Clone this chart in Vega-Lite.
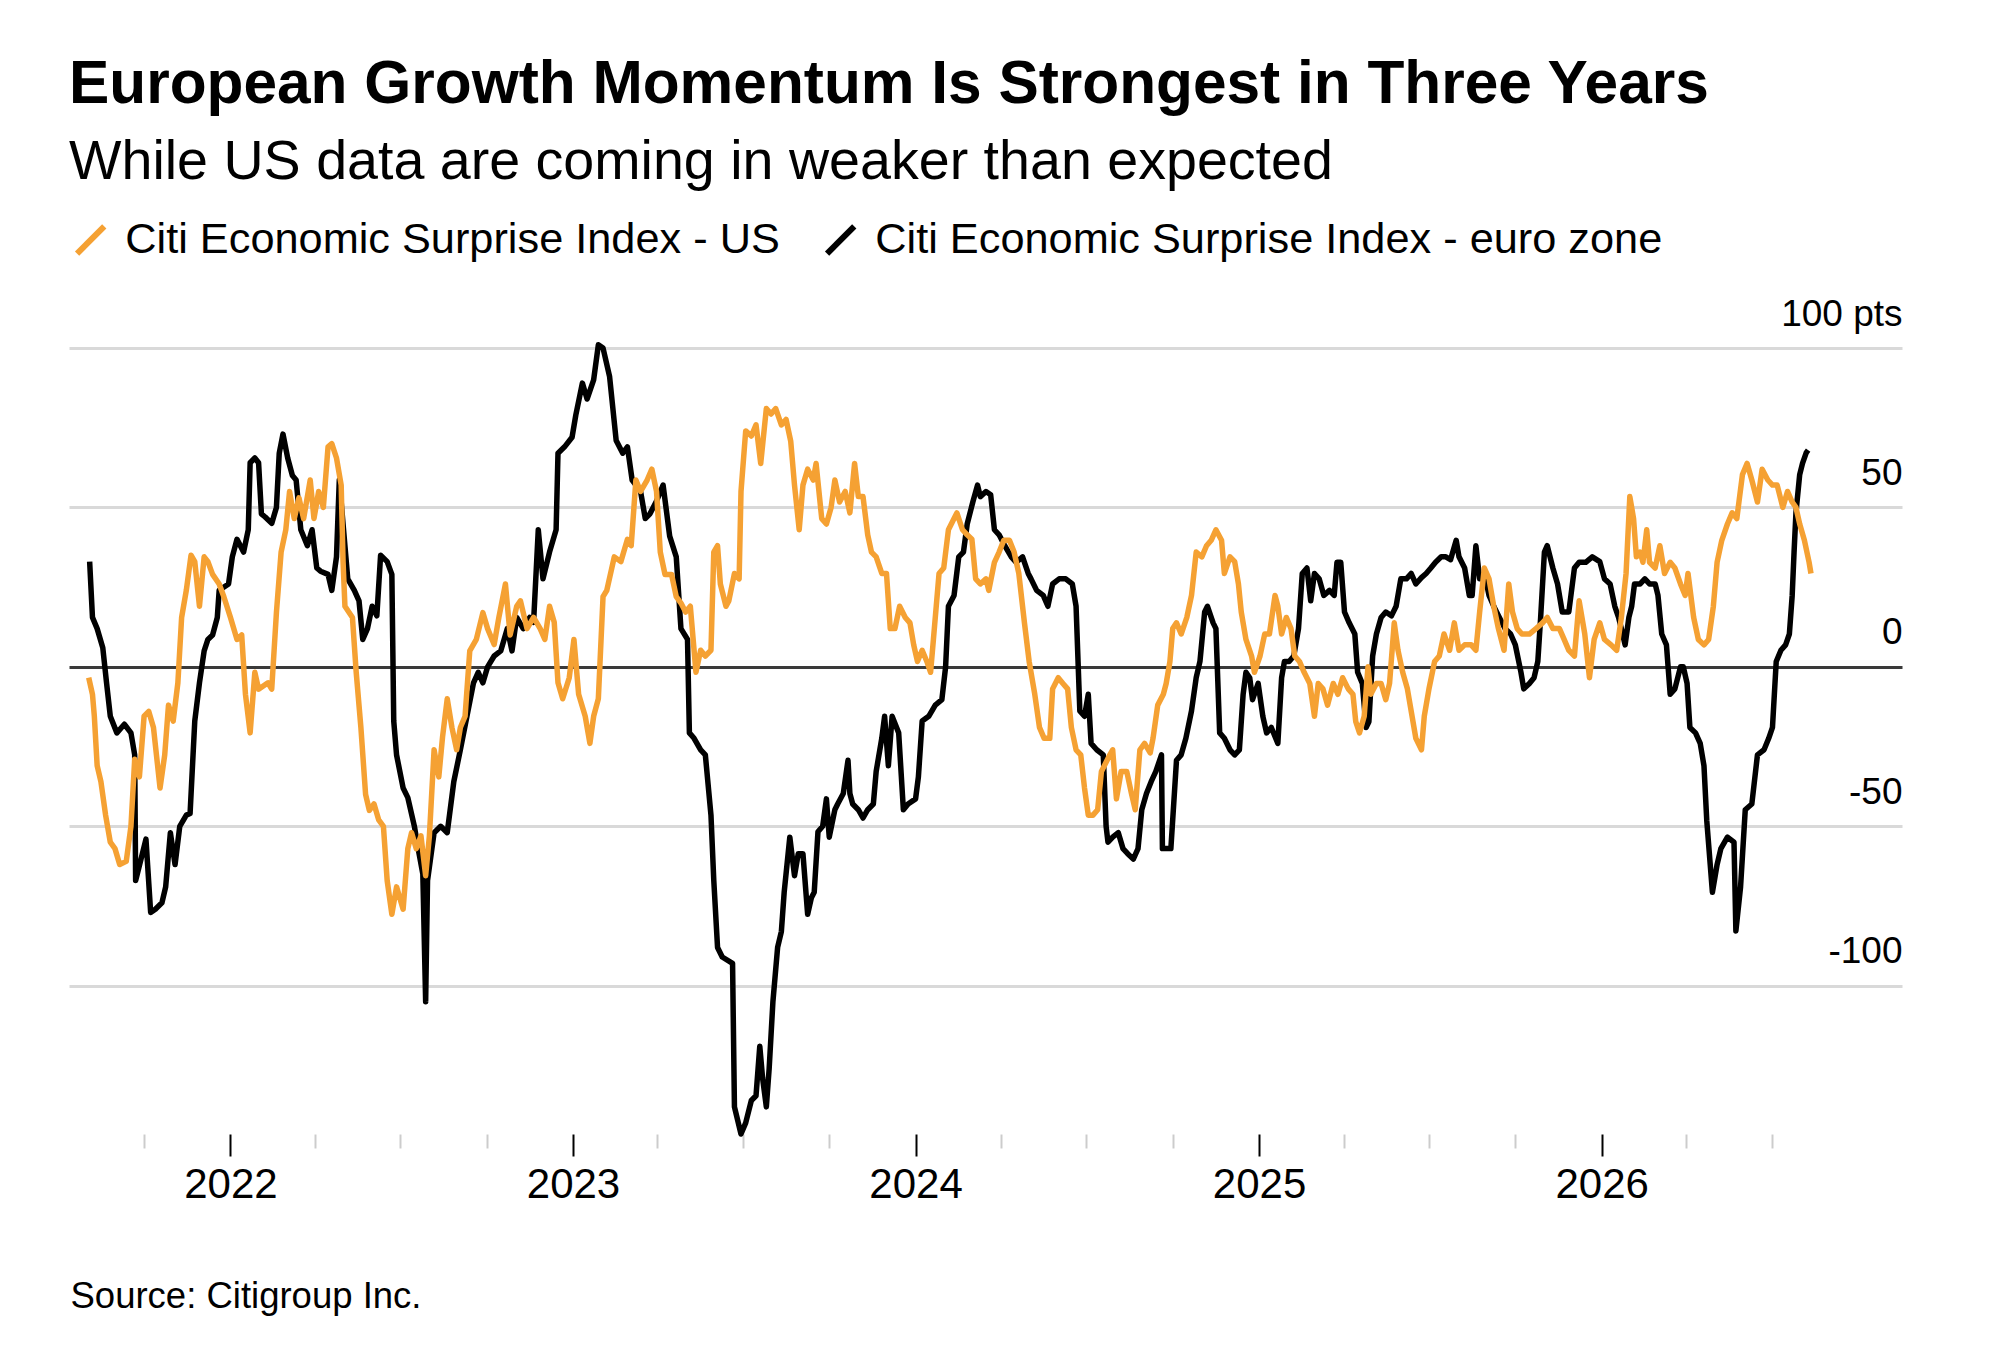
{
  "$schema": "https://vega.github.io/schema/vega-lite/v6.json",
  "width": 1833,
  "height": 786,
  "autosize": {"type": "none"},
  "padding": {"left": 69, "top": 348, "right": 98, "bottom": 226},
  "background": "#ffffff",
  "title": {
    "text": "European Growth Momentum Is Strongest in Three Years",
    "subtitle": "While US data are coming in weaker than expected",
    "anchor": "start",
    "frame": "group",
    "offset": 27,
    "font": "Liberation Sans",
    "fontSize": 60.4,
    "fontWeight": "bold",
    "color": "#000000",
    "subtitleFont": "Liberation Sans",
    "subtitleFontSize": 55.6,
    "subtitleColor": "#000000",
    "subtitlePadding": 20
  },
  "datasets": {
    "us": [
      {"date": "2021-08-03", "value": -3.4}, {"date": "2021-08-07", "value": -8.6}, {"date": "2021-08-09", "value": -15.5},
      {"date": "2021-08-12", "value": -31}, {"date": "2021-08-16", "value": -36}, {"date": "2021-08-21", "value": -46.5},
      {"date": "2021-08-26", "value": -55}, {"date": "2021-08-31", "value": -57}, {"date": "2021-09-05", "value": -62},
      {"date": "2021-09-12", "value": -61}, {"date": "2021-09-17", "value": -50}, {"date": "2021-09-21", "value": -29},
      {"date": "2021-09-26", "value": -34.5}, {"date": "2021-10-01", "value": -15.5}, {"date": "2021-10-06", "value": -14},
      {"date": "2021-10-11", "value": -19}, {"date": "2021-10-18", "value": -38}, {"date": "2021-10-23", "value": -27.6},
      {"date": "2021-10-27", "value": -12}, {"date": "2021-11-01", "value": -17}, {"date": "2021-11-06", "value": -5},
      {"date": "2021-11-10", "value": 15.5}, {"date": "2021-11-15", "value": 24}, {"date": "2021-11-20", "value": 35},
      {"date": "2021-11-24", "value": 33}, {"date": "2021-11-29", "value": 19}, {"date": "2021-12-04", "value": 34.5},
      {"date": "2021-12-08", "value": 33}, {"date": "2021-12-13", "value": 29}, {"date": "2021-12-20", "value": 26},
      {"date": "2021-12-25", "value": 22}, {"date": "2022-01-01", "value": 15.5}, {"date": "2022-01-08", "value": 8.6},
      {"date": "2022-01-13", "value": 10}, {"date": "2022-01-17", "value": -8.6}, {"date": "2022-01-22", "value": -20.7},
      {"date": "2022-01-27", "value": -1.7}, {"date": "2022-01-31", "value": -7}, {"date": "2022-02-10", "value": -5},
      {"date": "2022-02-14", "value": -7}, {"date": "2022-02-19", "value": 17}, {"date": "2022-02-24", "value": 36},
      {"date": "2022-03-01", "value": 43}, {"date": "2022-03-05", "value": 55}, {"date": "2022-03-10", "value": 46.5},
      {"date": "2022-03-15", "value": 53}, {"date": "2022-03-20", "value": 46.5}, {"date": "2022-03-27", "value": 58.6},
      {"date": "2022-03-31", "value": 46.5}, {"date": "2022-04-05", "value": 55}, {"date": "2022-04-10", "value": 50},
      {"date": "2022-04-15", "value": 69}, {"date": "2022-04-19", "value": 70}, {"date": "2022-04-24", "value": 65.5},
      {"date": "2022-04-29", "value": 57}, {"date": "2022-05-01", "value": 33}, {"date": "2022-05-03", "value": 19},
      {"date": "2022-05-11", "value": 15.5}, {"date": "2022-05-15", "value": -1.7}, {"date": "2022-05-20", "value": -19},
      {"date": "2022-05-25", "value": -40}, {"date": "2022-05-29", "value": -45}, {"date": "2022-06-03", "value": -43},
      {"date": "2022-06-08", "value": -48}, {"date": "2022-06-13", "value": -50}, {"date": "2022-06-17", "value": -67},
      {"date": "2022-06-22", "value": -77.6}, {"date": "2022-06-27", "value": -69}, {"date": "2022-07-04", "value": -76},
      {"date": "2022-07-09", "value": -57}, {"date": "2022-07-13", "value": -52}, {"date": "2022-07-18", "value": -57},
      {"date": "2022-07-23", "value": -53}, {"date": "2022-07-28", "value": -65.5}, {"date": "2022-08-01", "value": -53},
      {"date": "2022-08-06", "value": -26}, {"date": "2022-08-11", "value": -34.5}, {"date": "2022-08-15", "value": -22},
      {"date": "2022-08-20", "value": -10}, {"date": "2022-08-25", "value": -19}, {"date": "2022-08-30", "value": -26},
      {"date": "2022-09-03", "value": -19}, {"date": "2022-09-08", "value": -15.5}, {"date": "2022-09-13", "value": 5},
      {"date": "2022-09-20", "value": 8.6}, {"date": "2022-09-27", "value": 17}, {"date": "2022-10-02", "value": 12},
      {"date": "2022-10-09", "value": 7}, {"date": "2022-10-14", "value": 15.5}, {"date": "2022-10-21", "value": 26},
      {"date": "2022-10-26", "value": 10}, {"date": "2022-11-02", "value": 19}, {"date": "2022-11-06", "value": 20.7},
      {"date": "2022-11-13", "value": 12}, {"date": "2022-11-20", "value": 15.5}, {"date": "2022-11-27", "value": 12},
      {"date": "2022-12-02", "value": 8.6}, {"date": "2022-12-07", "value": 19}, {"date": "2022-12-12", "value": 14},
      {"date": "2022-12-16", "value": -5}, {"date": "2022-12-21", "value": -10}, {"date": "2022-12-28", "value": -3.4},
      {"date": "2023-01-02", "value": 8.6}, {"date": "2023-01-07", "value": -8.6}, {"date": "2023-01-14", "value": -15.5},
      {"date": "2023-01-19", "value": -24}, {"date": "2023-01-23", "value": -15.5}, {"date": "2023-01-28", "value": -10},
      {"date": "2023-02-02", "value": 22}, {"date": "2023-02-06", "value": 24}, {"date": "2023-02-14", "value": 34.5},
      {"date": "2023-02-21", "value": 33}, {"date": "2023-02-28", "value": 40}, {"date": "2023-03-04", "value": 38},
      {"date": "2023-03-09", "value": 58.6}, {"date": "2023-03-14", "value": 55}, {"date": "2023-03-21", "value": 58.6},
      {"date": "2023-03-26", "value": 62}, {"date": "2023-03-31", "value": 55}, {"date": "2023-04-04", "value": 36},
      {"date": "2023-04-09", "value": 29}, {"date": "2023-04-16", "value": 29}, {"date": "2023-04-21", "value": 22},
      {"date": "2023-04-26", "value": 20}, {"date": "2023-05-01", "value": 17.2}, {"date": "2023-05-06", "value": 19},
      {"date": "2023-05-12", "value": -1.7}, {"date": "2023-05-17", "value": 5.2}, {"date": "2023-05-22", "value": 3.4},
      {"date": "2023-05-28", "value": 5.2}, {"date": "2023-05-31", "value": 36}, {"date": "2023-06-04", "value": 38},
      {"date": "2023-06-07", "value": 26}, {"date": "2023-06-13", "value": 19}, {"date": "2023-06-16", "value": 20.7},
      {"date": "2023-06-22", "value": 29.3}, {"date": "2023-06-27", "value": 27.6}, {"date": "2023-06-29", "value": 55},
      {"date": "2023-07-04", "value": 74}, {"date": "2023-07-10", "value": 72.4}, {"date": "2023-07-15", "value": 75.9},
      {"date": "2023-07-20", "value": 63.8}, {"date": "2023-07-26", "value": 81}, {"date": "2023-07-31", "value": 79.3},
      {"date": "2023-08-05", "value": 81}, {"date": "2023-08-11", "value": 75.9}, {"date": "2023-08-16", "value": 77.6},
      {"date": "2023-08-21", "value": 70.7}, {"date": "2023-08-25", "value": 57}, {"date": "2023-08-30", "value": 43},
      {"date": "2023-09-03", "value": 57}, {"date": "2023-09-08", "value": 62}, {"date": "2023-09-14", "value": 58.6},
      {"date": "2023-09-17", "value": 63.8}, {"date": "2023-09-23", "value": 46.5}, {"date": "2023-09-28", "value": 44.8},
      {"date": "2023-10-03", "value": 50}, {"date": "2023-10-07", "value": 58.6}, {"date": "2023-10-12", "value": 51.7},
      {"date": "2023-10-18", "value": 55}, {"date": "2023-10-23", "value": 48.3}, {"date": "2023-10-28", "value": 63.8},
      {"date": "2023-11-01", "value": 53.4}, {"date": "2023-11-06", "value": 53.4}, {"date": "2023-11-11", "value": 41.4},
      {"date": "2023-11-15", "value": 36}, {"date": "2023-11-20", "value": 34.5}, {"date": "2023-11-26", "value": 29.3},
      {"date": "2023-12-01", "value": 29.3}, {"date": "2023-12-05", "value": 12}, {"date": "2023-12-10", "value": 12},
      {"date": "2023-12-15", "value": 19}, {"date": "2023-12-21", "value": 15.5}, {"date": "2023-12-26", "value": 13.8},
      {"date": "2023-12-30", "value": 6.9}, {"date": "2024-01-03", "value": 1.7}, {"date": "2024-01-08", "value": 5.2},
      {"date": "2024-01-13", "value": 1.7}, {"date": "2024-01-17", "value": -1.7}, {"date": "2024-01-20", "value": 8.6},
      {"date": "2024-01-26", "value": 29.3}, {"date": "2024-01-31", "value": 31}, {"date": "2024-02-05", "value": 43},
      {"date": "2024-02-11", "value": 46.5}, {"date": "2024-02-14", "value": 48.3}, {"date": "2024-02-20", "value": 43},
      {"date": "2024-02-25", "value": 41.4}, {"date": "2024-03-01", "value": 40}, {"date": "2024-03-05", "value": 27.6},
      {"date": "2024-03-10", "value": 26}, {"date": "2024-03-16", "value": 27.6}, {"date": "2024-03-19", "value": 24},
      {"date": "2024-03-25", "value": 32.8}, {"date": "2024-03-30", "value": 36}, {"date": "2024-04-04", "value": 39.7},
      {"date": "2024-04-10", "value": 39.7}, {"date": "2024-04-15", "value": 36}, {"date": "2024-04-20", "value": 29.3},
      {"date": "2024-04-26", "value": 13.8}, {"date": "2024-05-01", "value": 1.7}, {"date": "2024-05-07", "value": -8.6},
      {"date": "2024-05-12", "value": -19}, {"date": "2024-05-17", "value": -22.4}, {"date": "2024-05-23", "value": -22.4},
      {"date": "2024-05-26", "value": -6.9}, {"date": "2024-06-01", "value": -3.4}, {"date": "2024-06-06", "value": -5.2},
      {"date": "2024-06-11", "value": -6.9}, {"date": "2024-06-15", "value": -19}, {"date": "2024-06-20", "value": -26},
      {"date": "2024-06-25", "value": -27.6}, {"date": "2024-06-29", "value": -38}, {"date": "2024-07-03", "value": -46.5},
      {"date": "2024-07-08", "value": -46.5}, {"date": "2024-07-13", "value": -44.8}, {"date": "2024-07-17", "value": -32.8},
      {"date": "2024-07-26", "value": -27.6}, {"date": "2024-07-29", "value": -26}, {"date": "2024-08-02", "value": -41.4},
      {"date": "2024-08-07", "value": -32.8}, {"date": "2024-08-13", "value": -32.8}, {"date": "2024-08-18", "value": -39.7},
      {"date": "2024-08-22", "value": -44.8}, {"date": "2024-08-27", "value": -26}, {"date": "2024-09-01", "value": -24},
      {"date": "2024-09-07", "value": -27}, {"date": "2024-09-10", "value": -22.4}, {"date": "2024-09-15", "value": -12},
      {"date": "2024-09-21", "value": -8.6}, {"date": "2024-09-24", "value": -5.2}, {"date": "2024-09-28", "value": 1.7},
      {"date": "2024-10-01", "value": 12}, {"date": "2024-10-05", "value": 13.8}, {"date": "2024-10-10", "value": 10.3},
      {"date": "2024-10-16", "value": 15.5}, {"date": "2024-10-21", "value": 22.4}, {"date": "2024-10-26", "value": 36},
      {"date": "2024-11-01", "value": 34.5}, {"date": "2024-11-06", "value": 38}, {"date": "2024-11-11", "value": 39.7},
      {"date": "2024-11-16", "value": 43}, {"date": "2024-11-22", "value": 39.7}, {"date": "2024-11-25", "value": 29.3},
      {"date": "2024-12-01", "value": 34.5}, {"date": "2024-12-06", "value": 33}, {"date": "2024-12-10", "value": 26},
      {"date": "2024-12-13", "value": 17.2}, {"date": "2024-12-18", "value": 8.6}, {"date": "2024-12-24", "value": 3.4},
      {"date": "2024-12-27", "value": -1.7}, {"date": "2025-01-02", "value": 3.4}, {"date": "2025-01-07", "value": 10.3},
      {"date": "2025-01-12", "value": 10.3}, {"date": "2025-01-18", "value": 22.4}, {"date": "2025-01-21", "value": 19},
      {"date": "2025-01-25", "value": 10.3}, {"date": "2025-01-30", "value": 15.5}, {"date": "2025-02-04", "value": 12},
      {"date": "2025-02-08", "value": 3.4}, {"date": "2025-02-13", "value": 1.7}, {"date": "2025-02-18", "value": -1.7},
      {"date": "2025-02-24", "value": -5.2}, {"date": "2025-03-01", "value": -15.5}, {"date": "2025-03-05", "value": -5.2},
      {"date": "2025-03-10", "value": -6.9}, {"date": "2025-03-15", "value": -12}, {"date": "2025-03-21", "value": -5.2},
      {"date": "2025-03-26", "value": -8.6}, {"date": "2025-03-31", "value": -3.4}, {"date": "2025-04-06", "value": -6.9},
      {"date": "2025-04-11", "value": -8.6}, {"date": "2025-04-14", "value": -17.2}, {"date": "2025-04-18", "value": -20.7},
      {"date": "2025-04-23", "value": -15.5}, {"date": "2025-04-27", "value": 0}, {"date": "2025-04-30", "value": -8.6},
      {"date": "2025-05-06", "value": -5.2}, {"date": "2025-05-11", "value": -5.2}, {"date": "2025-05-16", "value": -10.3},
      {"date": "2025-05-20", "value": -5.2}, {"date": "2025-05-25", "value": 13.8}, {"date": "2025-05-29", "value": 5.2},
      {"date": "2025-06-03", "value": -1.7}, {"date": "2025-06-08", "value": -6.9}, {"date": "2025-06-14", "value": -17.2},
      {"date": "2025-06-17", "value": -22.4}, {"date": "2025-06-23", "value": -26}, {"date": "2025-06-26", "value": -15.5},
      {"date": "2025-07-01", "value": -6.9}, {"date": "2025-07-07", "value": 1.7}, {"date": "2025-07-12", "value": 3.4},
      {"date": "2025-07-17", "value": 10.3}, {"date": "2025-07-23", "value": 5.2}, {"date": "2025-07-28", "value": 13.8},
      {"date": "2025-08-02", "value": 5.2}, {"date": "2025-08-08", "value": 6.9}, {"date": "2025-08-15", "value": 6.9},
      {"date": "2025-08-20", "value": 5.2}, {"date": "2025-08-24", "value": 17.2}, {"date": "2025-08-29", "value": 31},
      {"date": "2025-09-03", "value": 27.6}, {"date": "2025-09-08", "value": 19}, {"date": "2025-09-13", "value": 12},
      {"date": "2025-09-19", "value": 5.2}, {"date": "2025-09-24", "value": 26}, {"date": "2025-09-28", "value": 17.2},
      {"date": "2025-10-03", "value": 12}, {"date": "2025-10-08", "value": 10.3}, {"date": "2025-10-16", "value": 10.3},
      {"date": "2025-10-23", "value": 12}, {"date": "2025-10-30", "value": 13.8}, {"date": "2025-11-04", "value": 15.5},
      {"date": "2025-11-10", "value": 12}, {"date": "2025-11-17", "value": 12}, {"date": "2025-11-22", "value": 8.6},
      {"date": "2025-11-27", "value": 5.2}, {"date": "2025-12-03", "value": 3.4}, {"date": "2025-12-08", "value": 20.7},
      {"date": "2025-12-14", "value": 10.3}, {"date": "2025-12-19", "value": -3.4}, {"date": "2025-12-24", "value": 8.6},
      {"date": "2025-12-30", "value": 13.8}, {"date": "2026-01-04", "value": 8.6}, {"date": "2026-01-11", "value": 6.9},
      {"date": "2026-01-17", "value": 5.2}, {"date": "2026-01-22", "value": 15.5}, {"date": "2026-01-27", "value": 29.3},
      {"date": "2026-01-31", "value": 53.4}, {"date": "2026-02-04", "value": 46.5}, {"date": "2026-02-07", "value": 34.5},
      {"date": "2026-02-11", "value": 36}, {"date": "2026-02-14", "value": 32.8}, {"date": "2026-02-18", "value": 43},
      {"date": "2026-02-21", "value": 32.8}, {"date": "2026-02-27", "value": 31}, {"date": "2026-03-04", "value": 38},
      {"date": "2026-03-09", "value": 29.3}, {"date": "2026-03-15", "value": 32.8}, {"date": "2026-03-20", "value": 31},
      {"date": "2026-03-26", "value": 26}, {"date": "2026-03-31", "value": 22.4}, {"date": "2026-04-03", "value": 29.3},
      {"date": "2026-04-09", "value": 15.5}, {"date": "2026-04-14", "value": 8.6}, {"date": "2026-04-20", "value": 6.9},
      {"date": "2026-04-25", "value": 8.6}, {"date": "2026-04-30", "value": 19}, {"date": "2026-05-04", "value": 32.8},
      {"date": "2026-05-09", "value": 39.7}, {"date": "2026-05-15", "value": 44.8}, {"date": "2026-05-20", "value": 48.3},
      {"date": "2026-05-25", "value": 46.5}, {"date": "2026-05-31", "value": 60.3}, {"date": "2026-06-05", "value": 63.8},
      {"date": "2026-06-10", "value": 58.6}, {"date": "2026-06-16", "value": 51.7}, {"date": "2026-06-21", "value": 62},
      {"date": "2026-06-27", "value": 58.6}, {"date": "2026-07-02", "value": 57}, {"date": "2026-07-07", "value": 57},
      {"date": "2026-07-13", "value": 50}, {"date": "2026-07-18", "value": 55}, {"date": "2026-07-23", "value": 51.7},
      {"date": "2026-07-27", "value": 50}, {"date": "2026-07-31", "value": 44.8}, {"date": "2026-08-05", "value": 39.7},
      {"date": "2026-08-10", "value": 32.8}, {"date": "2026-08-12", "value": 29.3}
    ],
    "ez": [
      {"date": "2021-08-04", "value": 33}, {"date": "2021-08-07", "value": 15.5}, {"date": "2021-08-12", "value": 12},
      {"date": "2021-08-18", "value": 6}, {"date": "2021-08-22", "value": -5}, {"date": "2021-08-26", "value": -15.5},
      {"date": "2021-09-02", "value": -20.7}, {"date": "2021-09-10", "value": -18}, {"date": "2021-09-17", "value": -20.7},
      {"date": "2021-09-21", "value": -27.6}, {"date": "2021-09-22", "value": -67}, {"date": "2021-09-28", "value": -60},
      {"date": "2021-10-03", "value": -54}, {"date": "2021-10-08", "value": -77}, {"date": "2021-10-13", "value": -76},
      {"date": "2021-10-20", "value": -74}, {"date": "2021-10-24", "value": -69}, {"date": "2021-10-29", "value": -52},
      {"date": "2021-11-03", "value": -62}, {"date": "2021-11-08", "value": -50}, {"date": "2021-11-15", "value": -46.5},
      {"date": "2021-11-19", "value": -46}, {"date": "2021-11-24", "value": -17}, {"date": "2021-11-29", "value": -5},
      {"date": "2021-12-04", "value": 5}, {"date": "2021-12-08", "value": 8.6}, {"date": "2021-12-13", "value": 10},
      {"date": "2021-12-18", "value": 15.5}, {"date": "2021-12-20", "value": 24}, {"date": "2021-12-30", "value": 26},
      {"date": "2022-01-03", "value": 34.5}, {"date": "2022-01-08", "value": 40}, {"date": "2022-01-15", "value": 36},
      {"date": "2022-01-20", "value": 43}, {"date": "2022-01-22", "value": 64}, {"date": "2022-01-27", "value": 65.5},
      {"date": "2022-01-31", "value": 64}, {"date": "2022-02-03", "value": 48}, {"date": "2022-02-07", "value": 47},
      {"date": "2022-02-14", "value": 45}, {"date": "2022-02-19", "value": 50}, {"date": "2022-02-22", "value": 67},
      {"date": "2022-02-26", "value": 73}, {"date": "2022-03-03", "value": 65.5}, {"date": "2022-03-08", "value": 60},
      {"date": "2022-03-12", "value": 58.6}, {"date": "2022-03-17", "value": 43}, {"date": "2022-03-24", "value": 38},
      {"date": "2022-03-29", "value": 43}, {"date": "2022-04-03", "value": 31}, {"date": "2022-04-07", "value": 30},
      {"date": "2022-04-15", "value": 29}, {"date": "2022-04-19", "value": 24}, {"date": "2022-04-24", "value": 34.5},
      {"date": "2022-04-27", "value": 58.6}, {"date": "2022-05-06", "value": 27.6}, {"date": "2022-05-13", "value": 24},
      {"date": "2022-05-18", "value": 20.7}, {"date": "2022-05-22", "value": 8.6}, {"date": "2022-05-27", "value": 12},
      {"date": "2022-06-01", "value": 19}, {"date": "2022-06-06", "value": 16}, {"date": "2022-06-10", "value": 35},
      {"date": "2022-06-17", "value": 33}, {"date": "2022-06-22", "value": 29}, {"date": "2022-06-24", "value": -17},
      {"date": "2022-06-27", "value": -27.6}, {"date": "2022-07-04", "value": -38}, {"date": "2022-07-09", "value": -41},
      {"date": "2022-07-16", "value": -50}, {"date": "2022-07-20", "value": -57}, {"date": "2022-07-25", "value": -65},
      {"date": "2022-07-28", "value": -105}, {"date": "2022-07-30", "value": -67}, {"date": "2022-08-06", "value": -52},
      {"date": "2022-08-13", "value": -50}, {"date": "2022-08-20", "value": -52}, {"date": "2022-08-27", "value": -36},
      {"date": "2022-09-03", "value": -26}, {"date": "2022-09-10", "value": -15.5}, {"date": "2022-09-17", "value": -5},
      {"date": "2022-09-22", "value": -1.7}, {"date": "2022-09-27", "value": -5}, {"date": "2022-10-02", "value": 0},
      {"date": "2022-10-09", "value": 3.4}, {"date": "2022-10-16", "value": 5}, {"date": "2022-10-23", "value": 12},
      {"date": "2022-10-28", "value": 5}, {"date": "2022-11-02", "value": 15.5}, {"date": "2022-11-09", "value": 12},
      {"date": "2022-11-16", "value": 15.5}, {"date": "2022-11-20", "value": 14}, {"date": "2022-11-25", "value": 43},
      {"date": "2022-11-30", "value": 27.6}, {"date": "2022-12-07", "value": 36}, {"date": "2022-12-14", "value": 43},
      {"date": "2022-12-16", "value": 67}, {"date": "2022-12-23", "value": 69}, {"date": "2022-12-31", "value": 72},
      {"date": "2023-01-04", "value": 79}, {"date": "2023-01-11", "value": 89}, {"date": "2023-01-16", "value": 84},
      {"date": "2023-01-23", "value": 90}, {"date": "2023-01-28", "value": 101}, {"date": "2023-02-02", "value": 100},
      {"date": "2023-02-09", "value": 91}, {"date": "2023-02-16", "value": 71}, {"date": "2023-02-23", "value": 67},
      {"date": "2023-02-28", "value": 69}, {"date": "2023-03-05", "value": 58.6}, {"date": "2023-03-14", "value": 55},
      {"date": "2023-03-19", "value": 46.5}, {"date": "2023-03-24", "value": 48}, {"date": "2023-03-31", "value": 52},
      {"date": "2023-04-07", "value": 57}, {"date": "2023-04-14", "value": 41}, {"date": "2023-04-21", "value": 34.5},
      {"date": "2023-04-26", "value": 12}, {"date": "2023-05-03", "value": 8.6}, {"date": "2023-05-05", "value": -20.7},
      {"date": "2023-05-10", "value": -22.4}, {"date": "2023-05-17", "value": -26}, {"date": "2023-05-22", "value": -27.6},
      {"date": "2023-05-28", "value": -46.5}, {"date": "2023-05-31", "value": -67}, {"date": "2023-06-04", "value": -88},
      {"date": "2023-06-09", "value": -91}, {"date": "2023-06-20", "value": -93}, {"date": "2023-06-22", "value": -138},
      {"date": "2023-06-29", "value": -146.5}, {"date": "2023-07-04", "value": -143}, {"date": "2023-07-10", "value": -136},
      {"date": "2023-07-15", "value": -134.5}, {"date": "2023-07-19", "value": -119}, {"date": "2023-07-22", "value": -129},
      {"date": "2023-07-26", "value": -138}, {"date": "2023-07-29", "value": -126}, {"date": "2023-08-02", "value": -105},
      {"date": "2023-08-07", "value": -88}, {"date": "2023-08-11", "value": -83}, {"date": "2023-08-14", "value": -70.7},
      {"date": "2023-08-20", "value": -53.4}, {"date": "2023-08-25", "value": -65.5}, {"date": "2023-08-29", "value": -58.6},
      {"date": "2023-09-03", "value": -58.6}, {"date": "2023-09-08", "value": -77.6}, {"date": "2023-09-12", "value": -72.4},
      {"date": "2023-09-15", "value": -70.7}, {"date": "2023-09-19", "value": -51.7}, {"date": "2023-09-24", "value": -50},
      {"date": "2023-09-28", "value": -41.4}, {"date": "2023-10-01", "value": -53.4}, {"date": "2023-10-07", "value": -44.8},
      {"date": "2023-10-10", "value": -43}, {"date": "2023-10-16", "value": -39.7}, {"date": "2023-10-21", "value": -29.3},
      {"date": "2023-10-23", "value": -39.7}, {"date": "2023-10-26", "value": -43}, {"date": "2023-11-01", "value": -44.8},
      {"date": "2023-11-06", "value": -47.4}, {"date": "2023-11-11", "value": -44.8}, {"date": "2023-11-17", "value": -43},
      {"date": "2023-11-20", "value": -32.8}, {"date": "2023-11-26", "value": -22.4}, {"date": "2023-11-29", "value": -15.5},
      {"date": "2023-12-03", "value": -31}, {"date": "2023-12-07", "value": -15.5}, {"date": "2023-12-14", "value": -20.7},
      {"date": "2023-12-19", "value": -44.8}, {"date": "2023-12-24", "value": -43}, {"date": "2024-01-01", "value": -41.4},
      {"date": "2024-01-04", "value": -34.5}, {"date": "2024-01-08", "value": -17}, {"date": "2024-01-15", "value": -15.5},
      {"date": "2024-01-22", "value": -12}, {"date": "2024-01-29", "value": -10.3}, {"date": "2024-02-02", "value": 0},
      {"date": "2024-02-05", "value": 19}, {"date": "2024-02-11", "value": 22.4}, {"date": "2024-02-16", "value": 34.5},
      {"date": "2024-02-21", "value": 36}, {"date": "2024-02-25", "value": 44.8}, {"date": "2024-03-02", "value": 51.7},
      {"date": "2024-03-07", "value": 57}, {"date": "2024-03-10", "value": 53.4}, {"date": "2024-03-16", "value": 55},
      {"date": "2024-03-21", "value": 54}, {"date": "2024-03-25", "value": 43}, {"date": "2024-03-30", "value": 41.4},
      {"date": "2024-04-05", "value": 38}, {"date": "2024-04-12", "value": 34.5}, {"date": "2024-04-17", "value": 32.8},
      {"date": "2024-04-24", "value": 34.5}, {"date": "2024-04-30", "value": 29.3}, {"date": "2024-05-03", "value": 27.6},
      {"date": "2024-05-09", "value": 24}, {"date": "2024-05-16", "value": 22.4}, {"date": "2024-05-21", "value": 19},
      {"date": "2024-05-26", "value": 26}, {"date": "2024-06-02", "value": 27.6}, {"date": "2024-06-09", "value": 27.6},
      {"date": "2024-06-16", "value": 26}, {"date": "2024-06-20", "value": 19}, {"date": "2024-06-24", "value": -13.8},
      {"date": "2024-06-29", "value": -15.5}, {"date": "2024-07-03", "value": -8.6}, {"date": "2024-07-06", "value": -24},
      {"date": "2024-07-12", "value": -26}, {"date": "2024-07-19", "value": -27.6}, {"date": "2024-07-22", "value": -50},
      {"date": "2024-07-24", "value": -55}, {"date": "2024-07-29", "value": -53.4}, {"date": "2024-08-04", "value": -52},
      {"date": "2024-08-09", "value": -57}, {"date": "2024-08-14", "value": -58.6}, {"date": "2024-08-20", "value": -60.3},
      {"date": "2024-08-25", "value": -57}, {"date": "2024-08-29", "value": -44.8}, {"date": "2024-09-03", "value": -39.7},
      {"date": "2024-09-08", "value": -36}, {"date": "2024-09-13", "value": -32.8}, {"date": "2024-09-19", "value": -27.6},
      {"date": "2024-09-20", "value": -57}, {"date": "2024-09-26", "value": -57}, {"date": "2024-09-29", "value": -57},
      {"date": "2024-10-05", "value": -29.3}, {"date": "2024-10-10", "value": -27.6}, {"date": "2024-10-15", "value": -22.4},
      {"date": "2024-10-21", "value": -13.8}, {"date": "2024-10-26", "value": -3.4}, {"date": "2024-10-30", "value": 1.7},
      {"date": "2024-11-04", "value": 17.2}, {"date": "2024-11-07", "value": 19}, {"date": "2024-11-13", "value": 13.8},
      {"date": "2024-11-16", "value": 12}, {"date": "2024-11-20", "value": -20.7}, {"date": "2024-11-25", "value": -22.4},
      {"date": "2024-12-01", "value": -26}, {"date": "2024-12-06", "value": -27.6}, {"date": "2024-12-11", "value": -26},
      {"date": "2024-12-15", "value": -8.6}, {"date": "2024-12-18", "value": -1.7}, {"date": "2024-12-22", "value": -3.4},
      {"date": "2024-12-25", "value": -10.3}, {"date": "2024-12-31", "value": -5.2}, {"date": "2025-01-05", "value": -15.5},
      {"date": "2025-01-09", "value": -20.7}, {"date": "2025-01-14", "value": -19}, {"date": "2025-01-21", "value": -24},
      {"date": "2025-01-25", "value": -3.4}, {"date": "2025-01-28", "value": 1.7}, {"date": "2025-02-02", "value": 1.7},
      {"date": "2025-02-07", "value": 3.4}, {"date": "2025-02-12", "value": 12}, {"date": "2025-02-16", "value": 29.3},
      {"date": "2025-02-21", "value": 31}, {"date": "2025-02-25", "value": 20.7}, {"date": "2025-03-01", "value": 29.3},
      {"date": "2025-03-06", "value": 27.6}, {"date": "2025-03-11", "value": 22.4}, {"date": "2025-03-17", "value": 24},
      {"date": "2025-03-22", "value": 22.4}, {"date": "2025-03-25", "value": 32.8}, {"date": "2025-03-29", "value": 32.8},
      {"date": "2025-04-02", "value": 17.2}, {"date": "2025-04-07", "value": 13.8}, {"date": "2025-04-13", "value": 10.3},
      {"date": "2025-04-16", "value": -1.7}, {"date": "2025-04-21", "value": -5.2}, {"date": "2025-04-25", "value": -19},
      {"date": "2025-04-28", "value": -17.2}, {"date": "2025-05-02", "value": 3.4}, {"date": "2025-05-06", "value": 10.3},
      {"date": "2025-05-11", "value": 15.5}, {"date": "2025-05-16", "value": 17.2}, {"date": "2025-05-22", "value": 16},
      {"date": "2025-05-27", "value": 19}, {"date": "2025-06-01", "value": 27.6}, {"date": "2025-06-07", "value": 27.6},
      {"date": "2025-06-12", "value": 29.3}, {"date": "2025-06-17", "value": 26}, {"date": "2025-06-23", "value": 28},
      {"date": "2025-06-28", "value": 29.3}, {"date": "2025-07-03", "value": 31}, {"date": "2025-07-08", "value": 32.8},
      {"date": "2025-07-14", "value": 34.5}, {"date": "2025-07-19", "value": 34.5}, {"date": "2025-07-24", "value": 33.6},
      {"date": "2025-07-30", "value": 39.7}, {"date": "2025-08-02", "value": 34.5}, {"date": "2025-08-08", "value": 31},
      {"date": "2025-08-13", "value": 22.4}, {"date": "2025-08-16", "value": 22.4}, {"date": "2025-08-20", "value": 38},
      {"date": "2025-08-24", "value": 27.6}, {"date": "2025-08-29", "value": 29.3}, {"date": "2025-09-03", "value": 22.4},
      {"date": "2025-09-08", "value": 19}, {"date": "2025-09-14", "value": 15.5}, {"date": "2025-09-20", "value": 12},
      {"date": "2025-09-26", "value": 10.3}, {"date": "2025-10-01", "value": 6.9}, {"date": "2025-10-07", "value": -1.7},
      {"date": "2025-10-10", "value": -6.9}, {"date": "2025-10-16", "value": -5.2}, {"date": "2025-10-21", "value": -3.4},
      {"date": "2025-10-25", "value": 1.7}, {"date": "2025-10-28", "value": 15.5}, {"date": "2025-11-01", "value": 36},
      {"date": "2025-11-04", "value": 38}, {"date": "2025-11-10", "value": 31}, {"date": "2025-11-15", "value": 26},
      {"date": "2025-11-20", "value": 17.2}, {"date": "2025-11-27", "value": 17.2}, {"date": "2025-12-03", "value": 31},
      {"date": "2025-12-08", "value": 32.8}, {"date": "2025-12-15", "value": 32.8}, {"date": "2025-12-22", "value": 34.5},
      {"date": "2025-12-30", "value": 33}, {"date": "2026-01-04", "value": 27.6}, {"date": "2026-01-10", "value": 26},
      {"date": "2026-01-15", "value": 19}, {"date": "2026-01-19", "value": 15.5}, {"date": "2026-01-22", "value": 12},
      {"date": "2026-01-26", "value": 6.9}, {"date": "2026-01-30", "value": 15.5}, {"date": "2026-02-02", "value": 19},
      {"date": "2026-02-05", "value": 26}, {"date": "2026-02-11", "value": 26}, {"date": "2026-02-16", "value": 27.6},
      {"date": "2026-02-21", "value": 26}, {"date": "2026-02-27", "value": 26}, {"date": "2026-03-02", "value": 22.4},
      {"date": "2026-03-06", "value": 10.3}, {"date": "2026-03-11", "value": 6.9}, {"date": "2026-03-15", "value": -8.6},
      {"date": "2026-03-20", "value": -6.9}, {"date": "2026-03-26", "value": 0}, {"date": "2026-03-29", "value": 0},
      {"date": "2026-04-02", "value": -5.2}, {"date": "2026-04-05", "value": -19}, {"date": "2026-04-11", "value": -20.7},
      {"date": "2026-04-16", "value": -24}, {"date": "2026-04-20", "value": -31}, {"date": "2026-04-23", "value": -48.3},
      {"date": "2026-04-29", "value": -70.7}, {"date": "2026-05-04", "value": -62}, {"date": "2026-05-08", "value": -57},
      {"date": "2026-05-15", "value": -53.4}, {"date": "2026-05-22", "value": -55}, {"date": "2026-05-24", "value": -82.8},
      {"date": "2026-05-29", "value": -69}, {"date": "2026-06-03", "value": -44.8}, {"date": "2026-06-10", "value": -43},
      {"date": "2026-06-16", "value": -27.6}, {"date": "2026-06-23", "value": -26}, {"date": "2026-06-28", "value": -22.4},
      {"date": "2026-07-02", "value": -19}, {"date": "2026-07-06", "value": 1.7}, {"date": "2026-07-11", "value": 5.2},
      {"date": "2026-07-16", "value": 6.9}, {"date": "2026-07-20", "value": 10.3}, {"date": "2026-07-23", "value": 22.4},
      {"date": "2026-07-25", "value": 36}, {"date": "2026-07-27", "value": 48.3}, {"date": "2026-07-31", "value": 60.3},
      {"date": "2026-08-03", "value": 63.8}, {"date": "2026-08-07", "value": 67.2}, {"date": "2026-08-09", "value": 68}
    ]
  },
  "encoding": {
    "x": {
      "field": "date",
      "type": "temporal",
      "scale": {"domain": [{"year": 2021, "month": 7, "date": 13}, {"year": 2026, "month": 11, "date": 17}]},
      "axis": {
        "values": [
          {"year": 2021, "month": 10, "date": 1},
          {"year": 2022, "month": 1, "date": 1}, {"year": 2022, "month": 4, "date": 1}, {"year": 2022, "month": 7, "date": 1}, {"year": 2022, "month": 10, "date": 1},
          {"year": 2023, "month": 1, "date": 1}, {"year": 2023, "month": 4, "date": 1}, {"year": 2023, "month": 7, "date": 1}, {"year": 2023, "month": 10, "date": 1},
          {"year": 2024, "month": 1, "date": 1}, {"year": 2024, "month": 4, "date": 1}, {"year": 2024, "month": 7, "date": 1}, {"year": 2024, "month": 10, "date": 1},
          {"year": 2025, "month": 1, "date": 1}, {"year": 2025, "month": 4, "date": 1}, {"year": 2025, "month": 7, "date": 1}, {"year": 2025, "month": 10, "date": 1},
          {"year": 2026, "month": 1, "date": 1}, {"year": 2026, "month": 4, "date": 1}, {"year": 2026, "month": 7, "date": 1}
        ],
        "labelExpr": "month(datum.value) === 0 ? timeFormat(datum.value, '%Y') : ''",
        "domain": false,
        "grid": false,
        "ticks": true,
        "tickSize": 22,
        "tickWidth": 2,
        "tickColor": {"condition": {"test": "month(datum.value) === 0", "value": "#000000"}, "value": "#cccccc"},
        "tickDash": {"condition": {"test": "month(datum.value) === 0", "value": [100, 0]}, "value": [14, 40]},
        "labelFont": "Liberation Sans",
        "labelFontSize": 42,
        "labelColor": "#000000",
        "labelBaseline": "alphabetic",
        "labelPadding": 41,
        "labelOverlap": false,
        "labelFlush": false,
        "title": "Source: Citigroup Inc.",
        "titleFont": "Liberation Sans",
        "titleFontSize": 36.5,
        "titleFontWeight": "normal",
        "titleColor": "#000000",
        "titleAlign": "left",
        "titleAnchor": "start",
        "titleBaseline": "alphabetic",
        "titleX": 1,
        "titleY": 173
      }
    },
    "y": {
      "field": "value",
      "type": "quantitative",
      "scale": {"domain": [-146.5, 100], "nice": false, "zero": false},
      "axis": {
        "orient": "right",
        "values": [-100, -50, 0, 50, 100],
        "labelExpr": "datum.value === 100 ? '100 pts' : '' + datum.value",
        "domain": false,
        "ticks": false,
        "tickSize": 0,
        "grid": true,
        "gridColor": {"condition": {"test": "datum.value === 0", "value": "#3a3a3a"}, "value": "#d9d9d9"},
        "gridWidth": 3,
        "labelFont": "Liberation Sans",
        "labelFontSize": 37,
        "labelColor": "#000000",
        "labelAlign": "right",
        "labelBaseline": "alphabetic",
        "labelOffset": -23,
        "labelPadding": 0,
        "labelFlush": false,
        "labelOverlap": false,
        "title": null
      }
    }
  },
  "layer": [
    {
      "data": {"name": "ez"},
      "mark": {"type": "line", "strokeWidth": 5.5, "strokeJoin": "round", "clip": false},
      "encoding": {
        "color": {
          "datum": "Citi Economic Surprise Index - euro zone",
          "type": "nominal",
          "scale": {
            "domain": ["Citi Economic Surprise Index - US", "Citi Economic Surprise Index - euro zone"],
            "range": ["#f5a133", "#000000"]
          },
          "legend": {
            "orient": "none",
            "legendX": 0,
            "legendY": -130,
            "direction": "horizontal",
            "title": null,
            "padding": 0,
            "symbolType": "M-0.85,0.85L0.85,-0.85",
            "symbolSize": 1024,
            "symbolStrokeWidth": 6,
            "labelFont": "Liberation Sans",
            "labelFontSize": 43.3,
            "labelColor": "#000000",
            "labelLimit": 2000,
            "labelOffset": 13,
            "columnPadding": 35
          }
        }
      }
    },
    {
      "data": {"name": "us"},
      "mark": {"type": "line", "strokeWidth": 5.5, "strokeJoin": "round", "clip": false},
      "encoding": {
        "color": {
          "datum": "Citi Economic Surprise Index - US",
          "type": "nominal"
        }
      }
    }
  ],
  "config": {
    "view": {"stroke": null},
    "font": "Liberation Sans"
  }
}
